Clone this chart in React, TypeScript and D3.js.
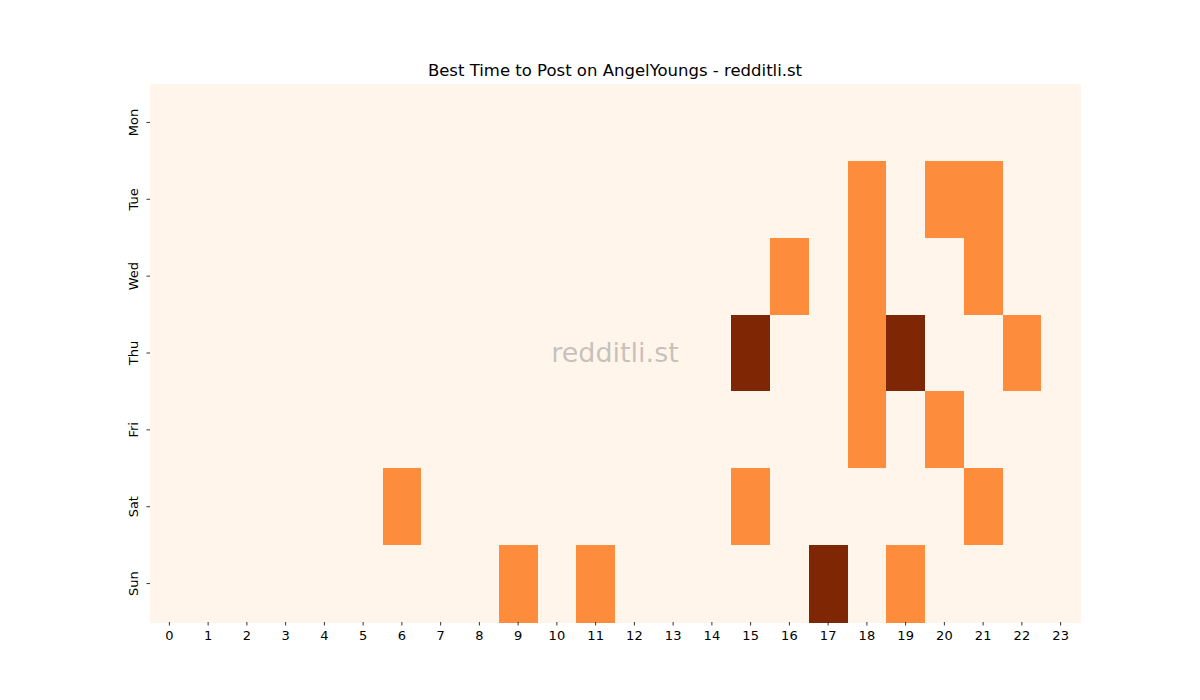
import React, { useEffect, useRef } from 'react';
import * as d3 from 'd3';

const days = ['Mon', 'Tue', 'Wed', 'Thu', 'Fri', 'Sat', 'Sun'];
const hours = d3.range(24).map(String);

// activity per day, indexed by hour (0 = none, 1 = some, 2 = most)
const mon = [0,0,0,0,0,0,0,0,0,0,0,0,0,0,0,0,0,0,0,0,0,0,0,0];
const tue = [0,0,0,0,0,0,0,0,0,0,0,0,0,0,0,0,0,0,1,0,1,1,0,0];
const wed = [0,0,0,0,0,0,0,0,0,0,0,0,0,0,0,0,1,0,1,0,0,1,0,0];
const thu = [0,0,0,0,0,0,0,0,0,0,0,0,0,0,0,2,0,0,1,2,0,0,1,0];
const fri = [0,0,0,0,0,0,0,0,0,0,0,0,0,0,0,0,0,0,1,0,1,0,0,0];
const sat = [0,0,0,0,0,0,1,0,0,0,0,0,0,0,0,1,0,0,0,0,0,1,0,0];
const sun = [0,0,0,0,0,0,0,0,0,1,0,1,0,0,0,0,0,2,0,1,0,0,0,0];
const grid = [mon, tue, wed, thu, fri, sat, sun];

const title = 'Best Time to Post on AngelYoungs - redditli.st';
const watermark = 'redditli.st';

const W = 1200;
const H = 700;
const margin = { top: 84, right: 120, bottom: 78, left: 150 };

export default function App() {
  const ref = useRef<SVGSVGElement>(null);

  useEffect(() => {
    const svg = d3.select(ref.current);
    svg.selectAll('*').remove();

    const w = W - margin.left - margin.right;
    const h = H - margin.top - margin.bottom;

    const x = d3.scaleBand().domain(hours).range([0, w]);
    const y = d3.scaleBand().domain(days).range([0, h]);
    const color = d3.scaleOrdinal<number, string>()
      .domain([0, 1, 2])
      .range(['#fff5eb', '#fd8d3c', '#7f2704']);

    const cells: { day: string; hour: string; v: number }[] = [];
    grid.forEach((row, i) => row.forEach((v, j) => cells.push({ day: days[i], hour: hours[j], v })));

    const g = svg.append('g')
      .attr('transform', 'translate(' + margin.left + ',' + margin.top + ')');

    g.selectAll('rect')
      .data(cells)
      .enter()
      .append('rect')
      .attr('x', d => x(d.hour)!)
      .attr('y', d => y(d.day)!)
      .attr('width', x.bandwidth() + 0.5)
      .attr('height', y.bandwidth() + 0.5)
      .attr('fill', d => color(d.v))
      .attr('shape-rendering', 'crispEdges');

    const xAxis = g.append('g')
      .attr('transform', 'translate(0,' + h + ')')
      .call(d3.axisBottom(x).tickSize(3.5).tickPadding(5));
    xAxis.select('.domain').remove();

    const yAxis = g.append('g')
      .call(d3.axisLeft(y).tickSize(3.5).tickPadding(5));
    yAxis.select('.domain').remove();
    yAxis.selectAll('text')
      .attr('transform', 'rotate(-90)')
      .attr('x', 0)
      .attr('y', -12)
      .attr('dy', 0)
      .attr('text-anchor', 'middle');

    svg.selectAll('.tick text')
      .attr('font-family', 'DejaVu Sans')
      .attr('font-size', 13)
      .attr('fill', '#000');
    svg.selectAll('.tick line').attr('stroke', '#000').attr('stroke-width', 0.8);

    g.append('text')
      .attr('x', w / 2)
      .attr('y', h / 2)
      .attr('text-anchor', 'middle')
      .attr('dy', '0.35em')
      .attr('font-family', 'DejaVu Sans')
      .attr('font-size', 27)
      .attr('fill', '#808080')
      .attr('fill-opacity', 0.45)
      .text(watermark);

    svg.append('text')
      .attr('x', margin.left + w / 2)
      .attr('y', margin.top - 8)
      .attr('text-anchor', 'middle')
      .attr('font-family', 'DejaVu Sans')
      .attr('font-size', 16.5)
      .attr('fill', '#000')
      .text(title);
  }, []);

  return (
    <svg ref={ref} width={W} height={H}
         style={{ position: 'absolute', left: 0, top: 0, background: '#fff' }} />
  );
}
